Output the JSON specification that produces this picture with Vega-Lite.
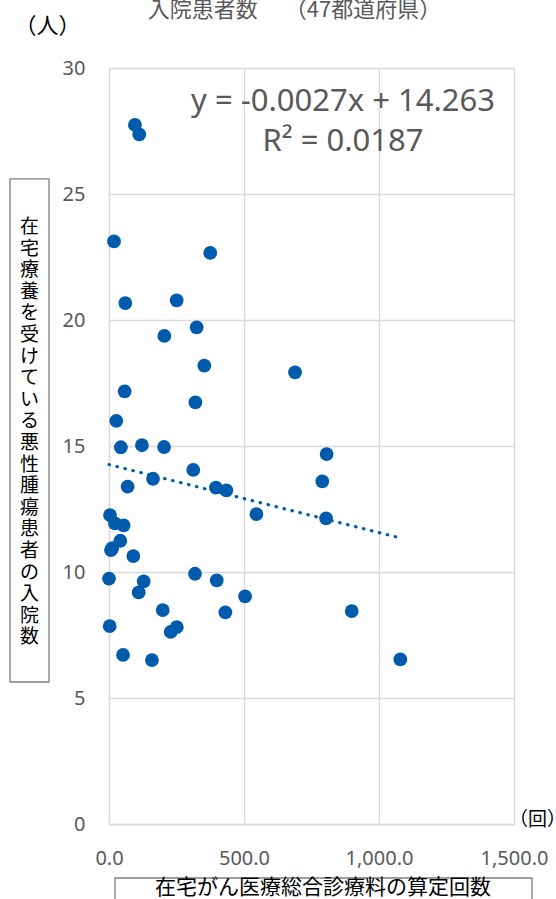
{
  "$schema": "https://vega.github.io/schema/vega-lite/v6.json",
  "width": 405,
  "height": 756,
  "autosize": {"type": "none"},
  "padding": {"left": 109, "top": 68, "right": 42, "bottom": 75},
  "background": "white",
  "title": {
    "text": "入院患者数　 （47都道府県）",
    "anchor": "middle",
    "frame": "group",
    "dx": -17,
    "offset": -8,
    "fontSize": 22,
    "fontWeight": "normal",
    "color": "#595959",
    "font": "Noto Sans CJK JP"
  },
  "config": {
    "font": "Noto Sans CJK JP",
    "view": {"stroke": null},
    "axis": {
      "grid": true,
      "gridColor": "#d9d9d9",
      "gridWidth": 1.3,
      "domainColor": "#d9d9d9",
      "domainWidth": 1.3,
      "ticks": false,
      "labelColor": "#595959",
      "labelFont": "Noto Sans",
      "labelFontSize": 20,
      "labelPadding": 24,
      "titleFontWeight": "normal",
      "titleColor": "#000000",
      "titleFont": "Noto Sans CJK JP"
    }
  },
  "layer": [
    {
      "data": {"values": [{}]},
      "mark": {"type": "rect", "fill": "white", "stroke": "#7f7f7f", "strokeWidth": 1.3},
      "encoding": {
        "x": {"datum": -366.7, "type": "quantitative", "scale": {"domain": [0, 1500], "nice": false}},
        "x2": {"datum": -222.2},
        "y": {"datum": 25.6, "type": "quantitative", "scale": {"domain": [0, 30], "nice": false}},
        "y2": {"datum": 5.635}
      }
    },
    {
      "data": {"values": [{}]},
      "mark": {
        "type": "text",
        "text": ["在","宅","療","養","を","受","け","て","い","る","悪","性","腫","瘍","患","者","の","入","院","数"],
        "fontSize": 19,
        "lineHeight": 21.6,
        "align": "center",
        "baseline": "middle",
        "color": "#000000",
        "font": "Noto Sans CJK JP"
      },
      "encoding": {
        "x": {"datum": -294.4, "type": "quantitative", "scale": {"domain": [0, 1500], "nice": false}},
        "y": {"datum": 23.69, "type": "quantitative", "scale": {"domain": [0, 30], "nice": false}}
      }
    },
    {
      "data": {"values": [{}]},
      "mark": {"type": "rect", "fill": "white", "stroke": "#7f7f7f", "strokeWidth": 1.3},
      "encoding": {
        "x": {"datum": 22.2, "type": "quantitative", "scale": {"domain": [0, 1500], "nice": false}},
        "x2": {"datum": 1566.7},
        "y": {"datum": -2.143, "type": "quantitative", "scale": {"domain": [0, 30], "nice": false}},
        "y2": {"datum": -3.6}
      }
    },
    {
      "data": {"values": [{}]},
      "mark": {
        "type": "text",
        "text": "在宅がん医療総合診療料の算定回数",
        "fontSize": 21,
        "align": "center",
        "baseline": "middle",
        "color": "#000000",
        "font": "Noto Sans CJK JP"
      },
      "encoding": {
        "x": {"datum": 792.6, "type": "quantitative", "scale": {"domain": [0, 1500], "nice": false}},
        "y": {"datum": -2.52, "type": "quantitative", "scale": {"domain": [0, 30], "nice": false}}
      }
    },
    {
      "data": {"values": [{"x": 0, "y": 14.263}, {"x": 1079, "y": 11.35}]},
      "mark": {"type": "line", "color": "#005bac", "strokeWidth": 3.2, "strokeDash": [0.5, 7.7], "strokeCap": "round"},
      "encoding": {
        "x": {"field": "x", "type": "quantitative", "scale": {"domain": [0, 1500], "nice": false}},
        "y": {"field": "y", "type": "quantitative", "scale": {"domain": [0, 30], "nice": false}}
      }
    },
    {
      "data": {
        "values": [
          {"x": 96, "y": 27.74}, {"x": 112, "y": 27.37}, {"x": 18.5, "y": 23.12}, {"x": 375, "y": 22.66},
          {"x": 60.5, "y": 20.67}, {"x": 250.6, "y": 20.78}, {"x": 205, "y": 19.37}, {"x": 324.7, "y": 19.71},
          {"x": 353, "y": 18.19}, {"x": 689, "y": 17.92}, {"x": 58, "y": 17.17}, {"x": 320, "y": 16.73},
          {"x": 27, "y": 16.0}, {"x": 44, "y": 14.95}, {"x": 122, "y": 15.03}, {"x": 204, "y": 14.96},
          {"x": 806, "y": 14.68}, {"x": 312, "y": 14.05}, {"x": 163, "y": 13.7}, {"x": 790, "y": 13.6},
          {"x": 69, "y": 13.39}, {"x": 396, "y": 13.35}, {"x": 434.6, "y": 13.24}, {"x": 546, "y": 12.3},
          {"x": 804, "y": 12.13}, {"x": 3.7, "y": 12.26}, {"x": 22, "y": 11.93}, {"x": 54, "y": 11.85},
          {"x": 42, "y": 11.24}, {"x": 7.4, "y": 10.87}, {"x": 90, "y": 10.63}, {"x": 0, "y": 9.74},
          {"x": 318.5, "y": 9.93}, {"x": 399, "y": 9.67}, {"x": 128.5, "y": 9.63}, {"x": 110, "y": 9.19},
          {"x": 504, "y": 9.03}, {"x": 199, "y": 8.49}, {"x": 431, "y": 8.4}, {"x": 2.5, "y": 7.85},
          {"x": 251, "y": 7.81}, {"x": 228.5, "y": 7.62}, {"x": 52, "y": 6.71}, {"x": 159, "y": 6.5},
          {"x": 899, "y": 8.45}, {"x": 1079, "y": 6.53}, {"x": 12, "y": 10.95}
        ]
      },
      "mark": {"type": "circle", "color": "#005bac", "opacity": 1, "size": 190},
      "encoding": {
        "x": {
          "field": "x",
          "type": "quantitative",
          "scale": {"domain": [0, 1500], "nice": false},
          "axis": {
            "values": [0, 500, 1000, 1500],
            "format": ",.1f",
            "labelFlush": false,
            "labelBaseline": "top",
            "title": "（回）",
            "titleX": 428,
            "titleY": -5,
            "titleAlign": "center",
            "titleBaseline": "middle",
            "titleAngle": 0,
            "titleFontSize": 19,
            "titlePadding": 0
          }
        },
        "y": {
          "field": "y",
          "type": "quantitative",
          "scale": {"domain": [0, 30], "nice": false},
          "axis": {
            "values": [0, 5, 10, 15, 20, 25, 30],
            "labelFlush": false,
            "title": "（人）",
            "titleX": -62,
            "titleY": -43,
            "titleAlign": "center",
            "titleBaseline": "middle",
            "titleAngle": 0,
            "titleFontSize": 22
          }
        }
      }
    },
    {
      "data": {"values": [{}]},
      "mark": {
        "type": "text",
        "text": ["y = -0.0027x + 14.263", "R² = 0.0187"],
        "fontSize": 31,
        "lineHeight": 40,
        "align": "center",
        "baseline": "middle",
        "color": "#595959",
        "font": "Noto Sans"
      },
      "encoding": {
        "x": {"datum": 866.7, "type": "quantitative", "scale": {"domain": [0, 1500], "nice": false}},
        "y": {"datum": 28.65, "type": "quantitative", "scale": {"domain": [0, 30], "nice": false}}
      }
    }
  ]
}
